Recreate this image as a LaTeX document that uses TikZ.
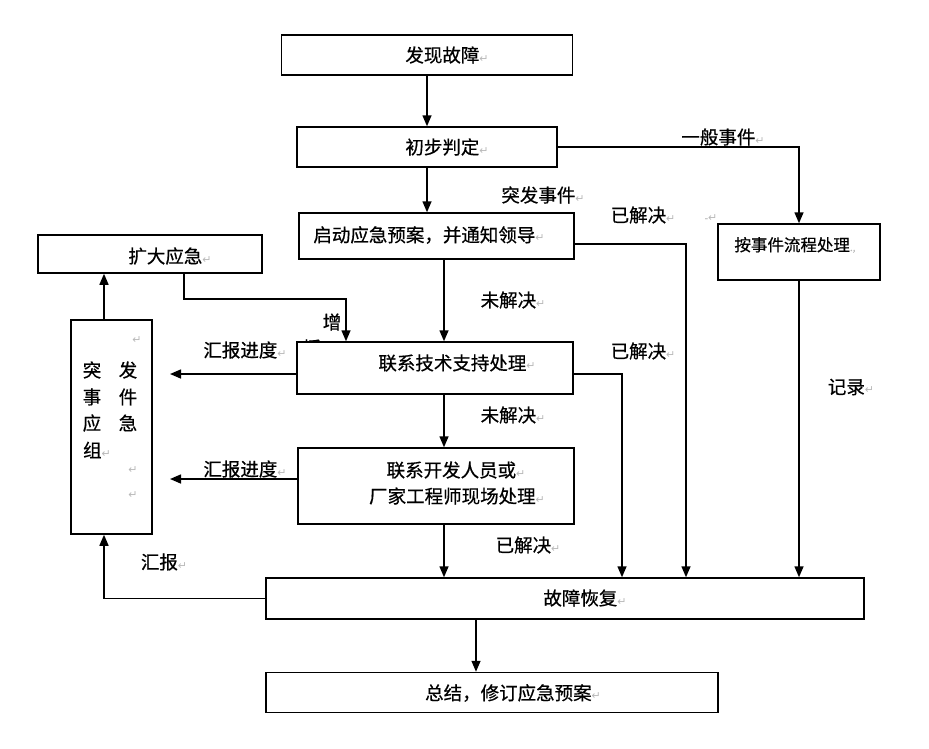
\documentclass[tikz,border=0pt]{standalone}
\usepackage{fontspec}
\setmainfont{Noto Sans CJK SC}[FakeBold=0.6]
\newfontfamily\dvfont{DejaVu Sans}
\usetikzlibrary{arrows.meta,positioning}
\newcommand\pmk{{\dvfont\color{gray!55}\fontsize{11}{11}\selectfont ↵}}
\begin{document}
\begin{tikzpicture}[x=1pt,y=-1pt,
  box/.style={draw, line width=1.5pt, fill=white, inner sep=0pt},
  txt/.style={inner sep=0pt, font=\fontsize{18.5}{22}\selectfont},
  stxt/.style={inner sep=0pt, font=\fontsize{16.5}{20}\selectfont},
  ln/.style={line width=1.5pt},
  arr/.style={line width=1.5pt, -{Triangle[width=9pt,length=11pt]}}]
\useasboundingbox (0,0) rectangle (929,748);

% partly hidden label under the box
\node[txt] (yuan) at (312,348) {援};

% boxes
\node[box, minimum width=291pt, minimum height=40pt] (n1) at (427,55) {};
\node[box, minimum width=260pt, minimum height=40pt] (n2) at (427,147) {};
\node[box, minimum width=275pt, minimum height=46pt] (n3) at (436.5,236) {};
\node[box, minimum width=162pt, minimum height=56pt] (n4) at (799,252) {};
\node[box, minimum width=224pt, minimum height=38pt] (n5) at (150,254) {};
\node[box, minimum width=276pt, minimum height=52pt] (n6) at (435,368) {};
\node[box, minimum width=276pt, minimum height=76pt] (n8) at (436,486) {};
\node[box, minimum width=598pt, minimum height=41pt] (n7) at (565,598.5) {};
\node[box, minimum width=81pt, minimum height=214pt] (n9) at (111.5,427) {};
\node[box, minimum width=452pt, minimum height=40pt] (n10) at (492,692.5) {};

% box texts
\node[txt] (tn1) at (447,55) {发现故障\pmk};
\node[txt] (tn2) at (447,147) {初步判定\pmk};
\node[txt] (tn3) at (429,235) {启动应急预案，并通知领导\pmk};
\node[stxt] (tn4) at (795,245) {按事件流程处理{\color{gray!55}\fontsize{10}{10}\selectfont .,}};
\node[txt] (tn5) at (170,256) {扩大应急\pmk};
\node[txt] (tn6) at (457,363) {联系技术支持处理\pmk};
\node[txt] (tn8a) at (456,470) {联系开发人员或\pmk};
\node[txt] (tn8b) at (457,496) {厂家工程师现场处理\pmk};
\node[txt] (tn7) at (585,598) {故障恢复\pmk};
\node[txt] (tn10) at (513,693) {总结，修订应急预案\pmk};
% vertical text in the emergency group box
\node[txt] (g1) at (92,370) {突};
\node[txt] (g2) at (92,397) {事};
\node[txt] (g3) at (92,423) {应};
\node[txt] (g4) at (97,450) {组\pmk};
\node[txt] (g5) at (128,370) {发};
\node[txt] (g6) at (128,397) {件};
\node[txt] (g7) at (128,423) {急};
\node[inner sep=0pt] (pm1) at (137,340) {\pmk};
\node[inner sep=0pt] (pm2) at (133,470) {\pmk};
\node[inner sep=0pt] (pm3) at (133,495) {\pmk};
\node[inner sep=0pt] (pm4) at (711,218) {{\color{gray!55}\fontsize{10}{10}\selectfont -}\pmk};

% lanes
\coordinate (l427) at (427,0);
\coordinate (l444) at (444,0);
\coordinate (l476) at (476,0);
\coordinate (l622) at (622,0);
\coordinate (l686) at (686,0);
\coordinate (l799) at (799,0);
\coordinate (l104) at (104,0);
\coordinate (l184) at (184,0);
\coordinate (l346) at (346,0);
\coordinate (tip1) at (170,374);
\coordinate (tip2) at (170,479);

% connectors
\draw[arr] (n1) -- (n2);
\draw[arr] (n2.south -| l427) -- (n3.north -| l427);
\draw[arr] (n2.east) -| (n4.north);
\draw[arr] (n3.south -| l444) -- (n6.north -| l444);
\draw[arr] ([yshift=-8pt]n3.east) -| (n7.north -| l686);
\draw[arr] (n6.south -| l444) -- (n8.north -| l444);
\draw[arr] ([yshift=-6pt]n6.east) -| (n7.north -| l622);
\draw[arr] ([yshift=-6pt]n6.west) -- (tip1);
\draw[arr] ([yshift=7pt]n8.west) -- (tip2);
\draw[arr] (n8.south -| l444) -- (n7.north -| l444);
\draw[arr] (n4.south -| l799) -- (n7.north -| l799);
\draw[arr] (n7.west) -| (n9.south -| l104);
\draw[arr] (n9.north -| l104) -- (n5.south -| l104);
\draw[arr] (n5.south -| l184) -- ++(0,25) -| (n6.north -| l346);
\draw[arr] (n7.south -| l476) -- (n10.north -| l476);

% connector labels
\node[txt] (lb1) at (723,137) {一般事件\pmk};
\node[txt] (lb2) at (543,195) {突发事件\pmk};
\node[txt] (lb3) at (643,215) {已解决\pmk};
\node[txt] (lb4) at (513,300) {未解决\pmk};
\node[txt] (lb5) at (643,351) {已解决\pmk};
\node[txt] (lb6) at (513,415) {未解决\pmk};
\node[txt] (lb7) at (528,545) {已解决\pmk};
\node[txt] (lb8) at (851,387) {记录\pmk};
\node[txt] (lb9) at (245,350) {汇报进度\pmk};
\node[txt] (lb10) at (245,469) {汇报进度\pmk};
\node[txt] (lb11) at (164,562) {汇报\pmk};
\node[txt] (lb12) at (332,322) {增};
\end{tikzpicture}
\end{document}
